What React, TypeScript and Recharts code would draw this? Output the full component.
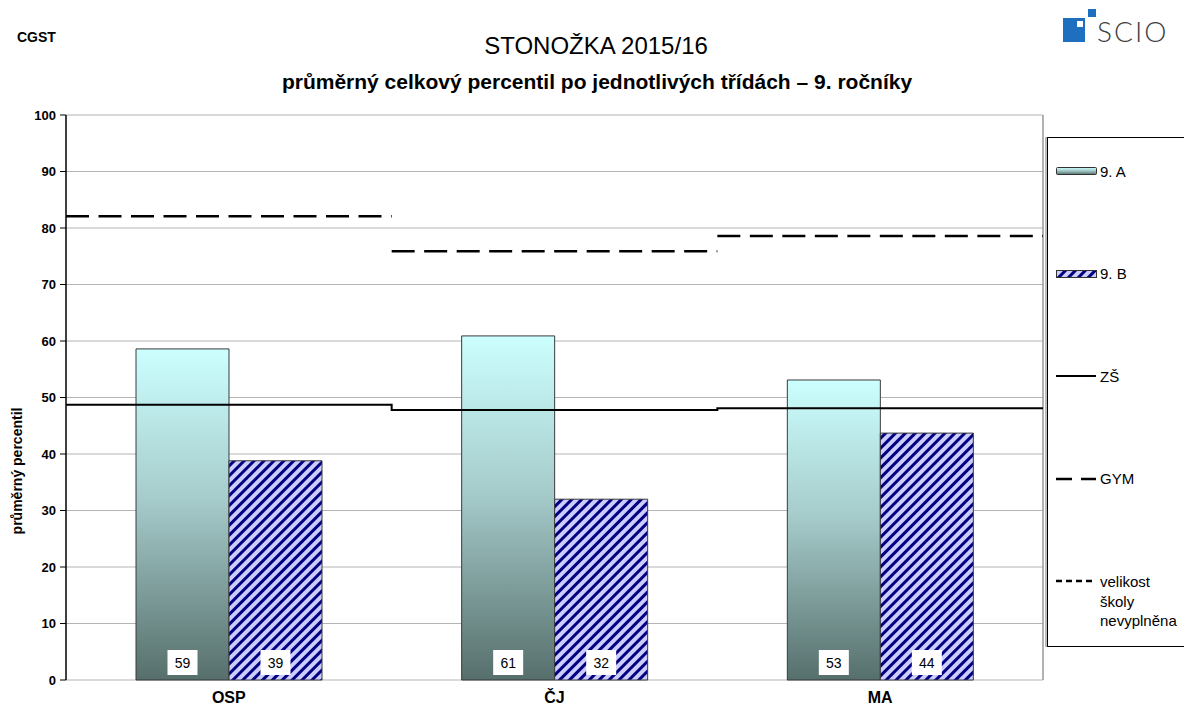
import React from "react";
import {
  ComposedChart,
  Bar,
  Line,
  XAxis,
  YAxis,
  CartesianGrid,
  ReferenceLine,
  LabelList,
} from "recharts";

const categories = ["OSP", "ČJ", "MA"];
const class9A = [58.6, 60.9, 53.1];
const class9B = [38.8, 32.0, 43.7];
const zsAvg = [48.7, 47.8, 48.1];
const gymAvg = [82.1, 75.9, 78.6];
const yTicks = [0, 10, 20, 30, 40, 50, 60, 70, 80, 90, 100];
const legendLabels = ["9. A", "9. B", "ZŠ", "GYM"];
const unknownSizeLabel = ["velikost", "školy", "nevyplněna"];

const FONT = '"Liberation Sans", Arial, sans-serif';

const barData = categories.map((cat, i) => ({ cat, a: class9A[i], b: class9B[i] }));

// step line for ZŠ: one value per category, held across its whole width
const zsData = [
  ...zsAvg.map((v, i) => ({ pos: i, zs: v })),
  { pos: zsAvg.length, zs: zsAvg[zsAvg.length - 1] },
];

// GYM: separate segment per category (null breaks the line)
const gymData = gymAvg.flatMap((v, i) => [
  { pos: i, gym: v },
  { pos: i + 1, gym: v },
  { pos: i + 1, gym: null },
]);

function BarValue(props: any) {
  const { x, y, width, height, value } = props;
  const cx = x + width / 2;
  const bottom = y + height;
  return (
    <g>
      <rect x={cx - 15} y={bottom - 30} width={30} height={25} fill="#fff" />
      <text
        x={cx}
        y={bottom - 17}
        textAnchor="middle"
        dominantBaseline="central"
        fontSize={14}
        fontFamily={FONT}
        fill="#000"
      >
        {Math.round(value)}
      </text>
    </g>
  );
}

function Defs() {
  return (
    <defs>
      <linearGradient id="gradA" x1="0" y1="0" x2="0" y2="1">
        <stop offset="0%" stopColor="#ccffff" />
        <stop offset="45%" stopColor="#a6cccb" />
        <stop offset="100%" stopColor="#566f6c" />
      </linearGradient>
      <pattern
        id="hatchB"
        width="7"
        height="7"
        patternUnits="userSpaceOnUse"
        patternTransform="rotate(45)"
      >
        <rect width="7" height="7" fill="#ccccff" />
        <rect width="3" height="7" fill="#000080" />
      </pattern>
    </defs>
  );
}

function LegendBox() {
  const top = 33;
  const step = 102.5;
  return (
    <div
      style={{
        position: "absolute",
        left: 1047,
        top: 137,
        width: 160,
        height: 508,
        border: "1px solid #000",
        boxShadow: "-2px 0 0 #bbb",
        fontFamily: FONT,
        fontSize: 15,
        color: "#000",
      }}
    >
      {legendLabels.map((label, i) => (
        <div
          key={label}
          style={{ position: "absolute", left: 8, top: top + i * step - 9, display: "flex", alignItems: "center", height: 18 }}
        >
          <svg width={42} height={12}>
            <Defs />
            {i === 0 && <rect x={0.5} y={2.5} width={40} height={7} fill="url(#gradA)" stroke="#333" rx={1} />}
            {i === 1 && <rect x={0.5} y={2.5} width={40} height={7} fill="url(#hatchB)" stroke="#333" />}
            {i === 2 && <line x1={0} x2={40} y1={6} y2={6} stroke="#000" strokeWidth={2} />}
            {i === 3 && <line x1={0} x2={40} y1={6} y2={6} stroke="#000" strokeWidth={2.5} strokeDasharray="16 9" />}
          </svg>
          <span style={{ marginLeft: 2 }}>{label}</span>
        </div>
      ))}
      <div style={{ position: "absolute", left: 8, top: top + 4 * step - 9, display: "flex", alignItems: "flex-start" }}>
        <svg width={42} height={18}>
          <line x1={0} x2={40} y1={9} y2={9} stroke="#000" strokeWidth={2.5} strokeDasharray="6 4" />
        </svg>
        <div style={{ marginLeft: 2, lineHeight: "19.5px" }}>
          {unknownSizeLabel.map((t) => (
            <div key={t}>{t}</div>
          ))}
        </div>
      </div>
    </div>
  );
}

export default function App() {
  return (
    <div
      style={{
        position: "absolute",
        left: 0,
        top: 0,
        width: 1184,
        height: 711,
        overflow: "hidden",
        background: "#fff",
        fontFamily: FONT,
      }}
    >
      <svg width={1184} height={711} style={{ position: "absolute", left: 0, top: 0 }}>
        <text x={17} y={42} fontSize={14} fontWeight="bold" fill="#000">CGST</text>
        <text x={596} y={54} fontSize={24} textAnchor="middle" fill="#000">STONOŽKA 2015/16</text>
        <text x={597} y={89} fontSize={21} fontWeight="bold" textAnchor="middle" fill="#000">
          průměrný celkový percentil po jednotlivých třídách – 9. ročníky
        </text>
        <text
          x={0}
          y={0}
          transform="translate(22 471) rotate(-90)"
          fontSize={14}
          fontWeight="bold"
          textAnchor="middle"
          fill="#000"
        >
          průměrný percentil
        </text>
        {/* SCIO logo */}
        <rect x={1063} y={18} width={22} height={24} fill="#1f6fc0" />
        <rect x={1077} y={21} width={6} height={6} fill="#fff" />
        <rect x={1088} y={9} width={8} height={8} fill="#1f6fc0" />
        <text x={1097} y={42} fontSize={28} fontFamily="Lato, sans-serif" fontWeight={300} fill="#3c3c3c" letterSpacing={2}>
          SCIO
        </text>
      </svg>

      <div style={{ position: "absolute", left: 0, top: 0 }}>
        <ComposedChart
          width={1184}
          height={711}
          data={barData}
          margin={{ top: 115, right: 141, bottom: 0, left: 6 }}
          barGap={0}
        >
          <Defs />
          <CartesianGrid horizontal vertical={false} stroke="#b4b4b4" yAxisId={0} />
          <XAxis
            xAxisId="num"
            type="number"
            dataKey="pos"
            domain={[0, 3]}
            ticks={[0, 1, 2, 3]}
            height={0}
            tick={false}
            tickSize={7}
            tickLine={{ stroke: "#000" }}
            axisLine={{ stroke: "#000", strokeWidth: 1.5 }}
          />
          <XAxis
            xAxisId="cat"
            dataKey="cat"
            height={31}
            axisLine={false}
            tickLine={false}
            tick={{ fontSize: 16, fontWeight: "bold", fill: "#000", fontFamily: FONT }}
            tickMargin={6}
          />
          <YAxis
            width={60}
            domain={[0, 100]}
            ticks={yTicks}
            tickSize={6}
            tickLine={{ stroke: "#000" }}
            axisLine={{ stroke: "#000", strokeWidth: 1.5 }}
            tick={{ fontSize: 13, fontWeight: "bold", fill: "#000", fontFamily: FONT }}
            tickMargin={4}
            interval={0}
          />
          <ReferenceLine xAxisId="num" x={3} stroke="#999" strokeWidth={1.5} />
          <Bar
            xAxisId="cat"
            dataKey="a"
            name="9. A"
            barSize={93}
            fill="url(#gradA)"
            stroke="#3a3a3a"
            strokeWidth={1}
            isAnimationActive={false}
          >
            <LabelList dataKey="a" content={BarValue} />
          </Bar>
          <Bar
            xAxisId="cat"
            dataKey="b"
            name="9. B"
            barSize={93}
            fill="url(#hatchB)"
            stroke="#3a3a3a"
            strokeWidth={1}
            isAnimationActive={false}
          >
            <LabelList dataKey="b" content={BarValue} />
          </Bar>
          <Line
            xAxisId="num"
            data={zsData}
            dataKey="zs"
            type="stepAfter"
            stroke="#000"
            strokeWidth={2}
            dot={false}
            activeDot={false}
            isAnimationActive={false}
          />
          <Line
            xAxisId="num"
            data={gymData}
            dataKey="gym"
            type="linear"
            stroke="#000"
            strokeWidth={2.5}
            strokeDasharray="23 9.5"
            dot={false}
            activeDot={false}
            connectNulls={false}
            isAnimationActive={false}
          />
        </ComposedChart>
      </div>

      <LegendBox />
    </div>
  );
}
